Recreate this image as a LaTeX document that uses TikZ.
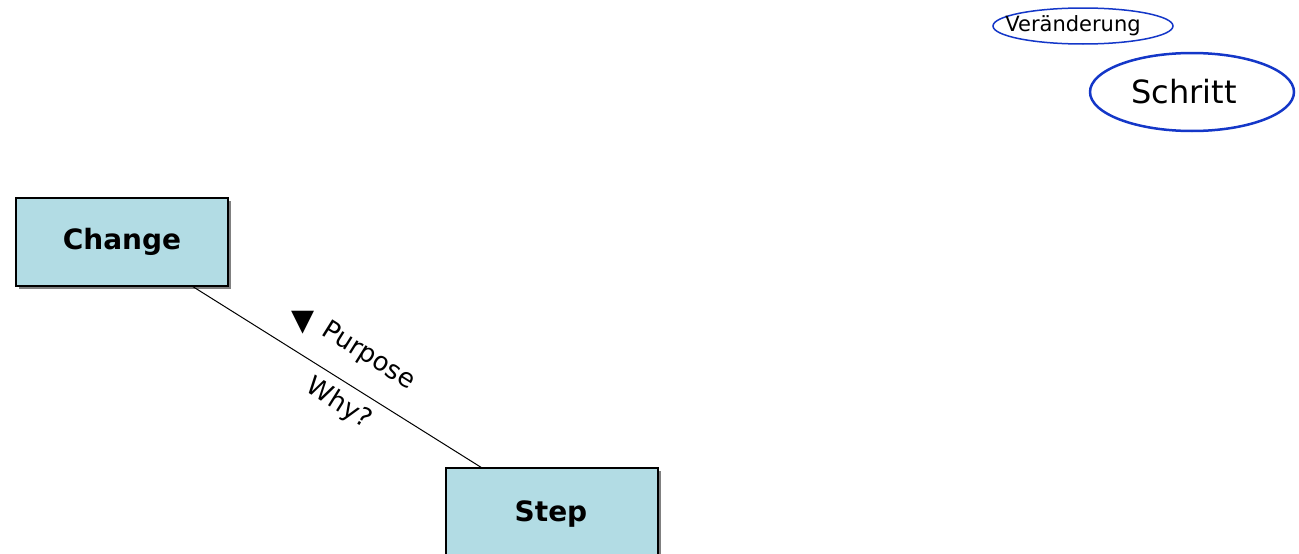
\documentclass[tikz,border=0pt]{standalone}
\usepackage{fontspec}
\setmainfont{DejaVu Sans}
\usetikzlibrary{shapes.geometric}
\definecolor{boxfill}{RGB}{178,220,228}
\definecolor{ovalblue}{RGB}{20,55,200}
\tikzset{
  conceptbox/.style={draw=black, line width=1.3pt, fill=boxfill,
    minimum width=212pt, minimum height=88pt, inner sep=0pt,
    font=\fontsize{28}{32}\selectfont\bfseries},
  shadowbox/.style={fill=black!50, minimum width=212pt, minimum height=88pt, inner sep=0pt},
  termoval/.style={ellipse, draw=ovalblue, inner sep=0pt},
  linklabel/.style={font=\fontsize{26}{30}\selectfont, inner sep=0pt, sloped}
}
\begin{document}
\begin{tikzpicture}[x=1pt, y=-1pt]
  \useasboundingbox (0,0) rectangle (1299,554);
  % drop shadows behind the two concept boxes
  \node[shadowbox] (chgsh) at (125,245) {};
  \node[shadowbox] (stpsh) at (555,515) {};
  % concept boxes
  \node[conceptbox] (chg) at (122,242) {Change};
  \node[conceptbox] (stp) at (552,512) {};
  \node[font=\fontsize{28}{32}\selectfont\bfseries] (stptxt) at (551,514) {Step};
  % link between the concepts
  \draw[line width=1pt] (chg) -- (stp)
    node[linklabel, pos=0.545, yshift=34pt] (purp) {Purpose}
    node[linklabel, pos=0.545, yshift=-22pt] (why) {Why?};
  % reading-direction marker
  \node[font=\fontsize{30}{34}\selectfont, inner sep=0pt] (dir) at (303,323) {▼};
  % German terms
  \node[termoval, line width=1.5pt, minimum width=180pt, minimum height=36pt,
        font=\fontsize{21}{24}\selectfont] (ver) at (1083,26) {\hspace*{-20pt}Veränderung};
  \node[termoval, line width=2.5pt, minimum width=204pt, minimum height=78pt,
        font=\fontsize{32}{36}\selectfont] (schr) at (1192,92) {\hspace*{-16pt}Schritt};
\end{tikzpicture}
\end{document}
